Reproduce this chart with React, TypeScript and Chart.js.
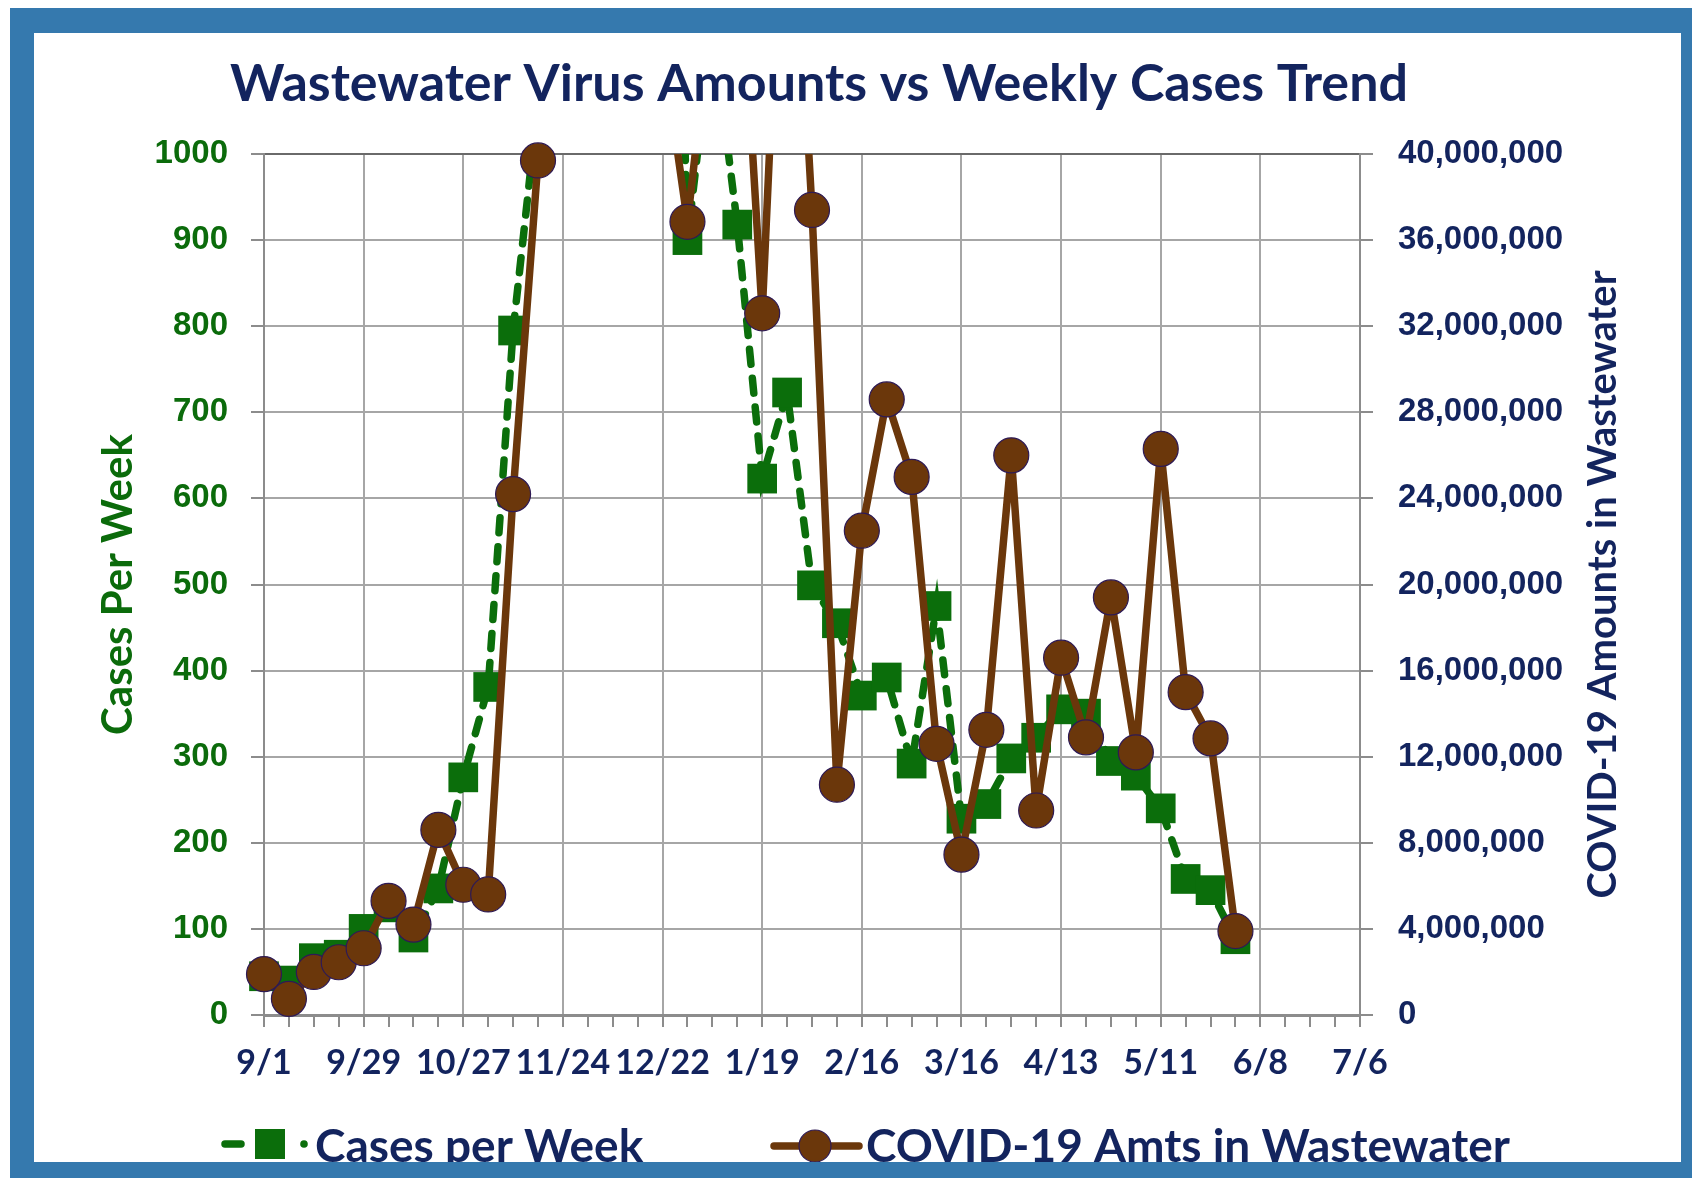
import React, { useEffect, useRef } from 'react';
import { Chart, registerables } from 'chart.js';

Chart.register(...registerables);

// Weekly dates (x axis categories), one per week from 9/1 to 7/6
const weekDates = [
  '9/1', '9/8', '9/15', '9/22', '9/29', '10/6', '10/13', '10/20', '10/27', '11/3',
  '11/10', '11/17', '11/24', '12/1', '12/8', '12/15', '12/22', '12/29', '1/5', '1/12',
  '1/19', '1/26', '2/2', '2/9', '2/16', '2/23', '3/2', '3/9', '3/16', '3/23',
  '3/30', '4/6', '4/13', '4/20', '4/27', '5/4', '5/11', '5/18', '5/25', '6/1',
  '6/8', '6/15', '6/22', '6/29', '7/6',
];

// Cases per week (left axis). Values above 1000 are off the top of the chart (estimated).
const casesPerWeek = [
  45, 40, 66, 70, 100, 125, 90, 147, 276, 381,
  795, 1060, 1500, 1900, 2300, 2600, 2000, 900, 1150, 918,
  623, 723, 499, 455, 371, 392, 292, 475, 228, 245,
  298, 322, 355, 350, 295, 278, 240, 158, 145, 88,
];

// COVID-19 amounts in wastewater (right axis). Values above 40M are off the top (estimated).
const wastewaterAmounts = [
  1900000, 750000, 2000000, 2450000, 3100000, 5300000, 4200000, 8600000, 6050000, 5600000,
  24200000, 39700000, 60000000, 85000000, 110000000, 95000000, 45000000, 36850000, 47000000, 52000000,
  32600000, 58000000, 37400000, 10700000, 22500000, 28600000, 25000000, 12600000, 7450000, 13250000,
  26000000, 9500000, 16600000, 12900000, 19400000, 12200000, 26300000, 15000000, 12850000, 3900000,
];

const LEFT_MAX = 1000;
const LEFT_STEP = 100;
const RIGHT_MAX = 40000000;
const RIGHT_STEP = 4000000;

const chartTitle = 'Wastewater Virus Amounts vs Weekly Cases Trend';
const leftAxisTitle = 'Cases Per Week';
const rightAxisTitle = 'COVID-19 Amounts in Wastewater';
const casesLabel = 'Cases per Week';
const wastewaterLabel = 'COVID-19 Amts in Wastewater';

const GREEN = '#0b6e0b';
const GREEN_TEXT = '#0b6b0b';
const BROWN = '#6b370b';
const NAVY = '#13245e';
const GRID = '#a6a6a6';
const AXIS = '#8c8c8c';

const fmt = (v: number) => String(Math.round(v)).replace(/\B(?=(\d{3})+(?!\d))/g, ',');

const decorPlugin = {
  id: 'decor',
  afterDraw(chart: any) {
    const { ctx, chartArea } = chart;
    const midY = (chartArea.top + chartArea.bottom) / 2;
    ctx.save();
    // Title
    ctx.fillStyle = NAVY;
    ctx.font = 'bold 52px Lato';
    ctx.textAlign = 'center';
    ctx.textBaseline = 'alphabetic';
    ctx.fillText(chartTitle, 785, 68);

    // Left axis title
    ctx.save();
    ctx.translate(98, midY);
    ctx.rotate(-Math.PI / 2);
    ctx.fillStyle = GREEN_TEXT;
    ctx.font = 'bold 42px Lato';
    ctx.textAlign = 'center';
    ctx.fillText(leftAxisTitle, 0, 0);
    ctx.restore();

    // Right axis title
    ctx.save();
    ctx.translate(1582, midY);
    ctx.rotate(-Math.PI / 2);
    ctx.fillStyle = NAVY;
    ctx.font = 'bold 40px Lato';
    ctx.textAlign = 'center';
    ctx.fillText(rightAxisTitle, 0, 0);
    ctx.restore();

    // Legend
    const ly = 1111;
    // green dashed line with square marker
    ctx.strokeStyle = GREEN;
    ctx.lineWidth = 7.5;
    ctx.lineCap = 'round';
    ctx.beginPath();
    ctx.moveTo(191, ly);
    ctx.lineTo(207, ly);
    ctx.stroke();
    ctx.beginPath();
    ctx.arc(270, ly, 3.8, 0, Math.PI * 2);
    ctx.fillStyle = GREEN;
    ctx.fill();
    ctx.fillRect(221, ly - 15, 30, 30);
    // brown line with circle marker
    ctx.strokeStyle = BROWN;
    ctx.lineWidth = 7.5;
    ctx.beginPath();
    ctx.moveTo(740, ly + 2);
    ctx.lineTo(825, ly + 2);
    ctx.stroke();
    ctx.beginPath();
    ctx.arc(781, ly + 2, 16, 0, Math.PI * 2);
    ctx.fillStyle = BROWN;
    ctx.fill();
    ctx.lineWidth = 1.2;
    ctx.strokeStyle = '#2e1a55';
    ctx.stroke();
    // legend text
    ctx.fillStyle = NAVY;
    ctx.font = 'bold 46px Lato';
    ctx.textAlign = 'left';
    ctx.fillText(casesLabel, 281, 1129);
    ctx.fillText(wastewaterLabel, 832, 1129);
    ctx.restore();
  },
};

export default function App() {
  const canvasRef = useRef<HTMLCanvasElement | null>(null);

  useEffect(() => {
    const canvas = canvasRef.current;
    if (!canvas) return;
    const chart = new Chart(canvas, {
      type: 'line',
      data: {
        labels: weekDates,
        datasets: [
          {
            label: wastewaterLabel + ' markers',
            data: wastewaterAmounts,
            yAxisID: 'y1',
            showLine: false,
            pointStyle: 'circle',
            pointRadius: (c: any) => (c.raw > RIGHT_MAX ? 0 : 17.5),
            pointBackgroundColor: BROWN,
            pointBorderColor: '#2e1a55',
            pointBorderWidth: 1.2,
            clip: false,
            order: 0,
          } as any,
          {
            label: wastewaterLabel,
            data: wastewaterAmounts,
            yAxisID: 'y1',
            borderColor: BROWN,
            borderWidth: 7.5,
            borderJoinStyle: 'round',
            borderCapStyle: 'round',
            pointRadius: 0,
            tension: 0,
            clip: 0,
            order: 1,
          } as any,
          {
            label: casesLabel + ' markers',
            data: casesPerWeek,
            yAxisID: 'y',
            showLine: false,
            pointStyle: 'rect',
            pointRadius: (c: any) => (c.raw > LEFT_MAX ? 0 : 21),
            pointBackgroundColor: GREEN,
            pointBorderColor: GREEN,
            pointBorderWidth: 0,
            clip: false,
            order: 2,
          } as any,
          {
            label: casesLabel,
            data: casesPerWeek,
            yAxisID: 'y',
            borderColor: GREEN,
            borderWidth: 7.5,
            borderDash: [15, 14],
            borderCapStyle: 'round',
            pointRadius: 0,
            tension: 0,
            clip: 0,
            order: 3,
          } as any,
        ],
      },
      options: {
        animation: false,
        responsive: false,
        events: [],
        layout: { padding: { top: 121, left: 0, right: 0, bottom: 0 } },
        plugins: {
          legend: { display: false },
          title: { display: false },
          tooltip: { enabled: false },
        },
        scales: {
          x: {
            type: 'category',
            offset: false,
            grid: {
              color: (c: any) => (c.index % 4 === 0 ? GRID : 'transparent'),
              lineWidth: 2,
              tickColor: AXIS,
              tickLength: 12,
              tickWidth: 2,
            },
            border: { color: AXIS, width: 3 },
            ticks: {
              autoSkip: false,
              maxRotation: 0,
              minRotation: 0,
              padding: 16,
              color: NAVY,
              font: { family: 'Lato', weight: 'bold', size: 34 },
              callback: (_v: any, i: number) => (i % 4 === 0 ? weekDates[i] : ''),
            },
            afterFit: (s: any) => {
              s.height = 147;
            },
          },
          y: {
            position: 'left',
            min: 0,
            max: LEFT_MAX,
            grid: {
              color: (c: any) => (c.tick && c.tick.value === LEFT_MAX ? '#6a6a6a' : GRID),
              lineWidth: 2,
              tickColor: AXIS,
              tickLength: 13,
            },
            border: { color: AXIS, width: 2 },
            ticks: {
              stepSize: LEFT_STEP,
              padding: 23,
              color: GREEN_TEXT,
              font: { family: 'Liberation Sans', weight: 'bold', size: 33 },
              callback: (v: any) => String(Math.round(Number(v))),
            },
            afterFit: (s: any) => {
              s.width = 230;
            },
          },
          y1: {
            position: 'right',
            min: 0,
            max: RIGHT_MAX,
            grid: {
              drawOnChartArea: false,
              lineWidth: 2,
              tickColor: AXIS,
              tickLength: 13,
            },
            border: { color: AXIS, width: 2 },
            ticks: {
              stepSize: RIGHT_STEP,
              padding: 25,
              color: NAVY,
              font: { family: 'Liberation Sans', weight: 'bold', size: 33 },
              callback: (v: any) => fmt(Number(v)),
            },
            afterFit: (s: any) => {
              s.width = 321;
            },
          },
        },
      } as any,
      plugins: [decorPlugin],
    });
    return () => chart.destroy();
  }, []);

  return (
    <div>
      <div
        style={{
          position: 'absolute',
          left: 10,
          top: 8,
          width: 1682,
          height: 1170,
          background: '#3579ae',
        }}
      />
      <div
        style={{
          position: 'absolute',
          left: 34,
          top: 33,
          width: 1647,
          height: 1129,
          background: '#ffffff',
          overflow: 'hidden',
        }}
      >
        <canvas ref={canvasRef} width={1647} height={1129} style={{ display: 'block' }} />
      </div>
    </div>
  );
}
